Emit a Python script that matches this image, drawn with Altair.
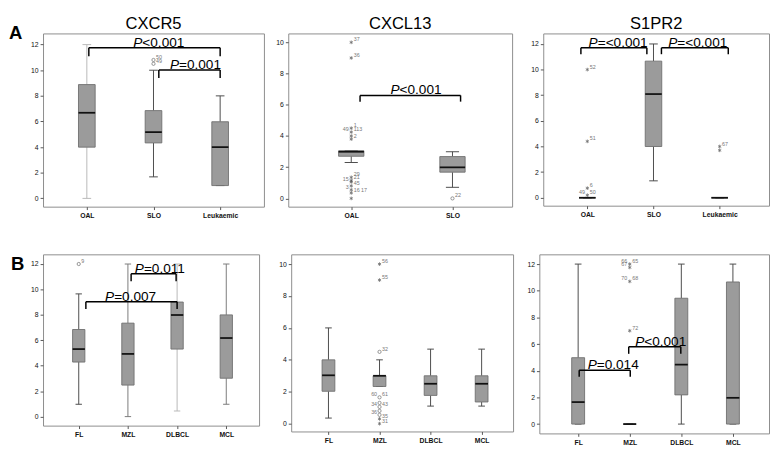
import json
import altair as alt
import pandas as pd

FONT = "Liberation Sans"

# ---------------- Row A : CXCR5 ----------------
a1_cats = ["OAL", "SLO", "Leukaemic"]
a1_low = [0.0, 1.68, 1.0]
a1_q1 = [4.0, 4.33, 1.0]
a1_med = [6.68, 5.17, 4.0]
a1_q3 = [8.88, 6.85, 5.98]
a1_high = [12.0, 10.0, 8.0]
a1_out_cat = ["SLO", "SLO"]
a1_out_val = [10.8, 10.5]
a1_out_kind = ["o", "o"]
a1_out_left = ["", ""]
a1_out_right = ["50", "49"]
a1_br_x1 = [0.03, 1.08]
a1_br_x2 = [2.0, 2.0]
a1_br_top = [11.75, 10.02]
a1_br_leg = [11.1, 9.4]
a1_br_txt = ["<0.001", "=0.001"]
a1_br_tx = [1.08, 1.63]

# ---------------- Row A : CXCL13 ----------------
a2_cats = ["OAL", "SLO"]
a2_low = [2.3, 0.71]
a2_q1 = [2.7, 1.68]
a2_med = [2.99, 1.99]
a2_q3 = [3.05, 2.68]
a2_high = [3.05, 2.99]
a2_out_cat = ["OAL"] * 13 + ["SLO"]
a2_out_val = [10.0, 9.0, 4.5, 4.25, 4.0, 3.8, 1.35, 1.15, 1.05, 0.8, 0.55, 0.35, 0.0, 0.0]
a2_out_kind = ["*"] * 13 + ["o"]
a2_out_left = ["", "", "", "49", "", "", "", "", "15", "", "3", "", "", ""]
a2_out_right = ["37", "36", "1", "113", "", "2", "29", "21", "", "45", "", "16  17", "", "22"]
a2_br_x1 = [0.087]
a2_br_x2 = [1.08]
a2_br_top = [6.6]
a2_br_leg = [6.2]
a2_br_txt = ["<0.001"]
a2_br_tx = [0.64]

# ---------------- Row A : S1PR2 ----------------
a3_cats = ["OAL", "SLO", "Leukaemic"]
a3_low = [0.0, 1.32, 0.0]
a3_q1 = [0.0, 4.0, 0.0]
a3_med = [0.0, 8.09, 0.0]
a3_q3 = [0.0, 10.66, 0.0]
a3_high = [0.0, 12.0, 0.0]
a3_out_cat = ["OAL", "OAL", "OAL", "OAL", "Leukaemic", "Leukaemic"]
a3_out_val = [10.0, 4.4, 0.75, 0.2, 4.0, 3.7]
a3_out_kind = ["*"] * 6
a3_out_left = ["", "", "", "49", "", ""]
a3_out_right = ["52", "51", "6", "50", "67", ""]
a3_br_x1 = [-0.097, 1.12]
a3_br_x2 = [0.90, 2.13]
a3_br_top = [11.7, 11.7]
a3_br_leg = [11.2, 11.2]
a3_br_txt = ["=<0.001", "=<0.001"]
a3_br_tx = [0.466, 1.67]

# ---------------- Row B : CXCR5 ----------------
b1_cats = ["FL", "MZL", "DLBCL", "MCL"]
b1_low = [0.97, 0.0, 0.44, 0.97]
b1_q1 = [4.29, 2.48, 5.31, 3.02]
b1_med = [5.31, 4.93, 7.99, 6.18]
b1_q3 = [6.85, 7.35, 9.01, 8.0]
b1_high = [9.65, 12.0, 12.0, 12.0]
b1_out_cat = ["FL"]
b1_out_val = [12.0]
b1_out_kind = ["o"]
b1_out_left = [""]
b1_out_right = ["9"]
b1_br_x1 = [0.145, 1.065]
b1_br_x2 = [2.0, 1.98]
b1_br_top = [9.03, 11.23]
b1_br_leg = [8.46, 10.64]
b1_br_txt = ["=0.007", "=0.011"]
b1_br_tx = [1.055, 1.66]

# ---------------- Row B : CXCL13 ----------------
b2_cats = ["FL", "MZL", "DLBCL", "MCL"]
b2_low = [0.35, 2.33, 1.1, 1.1]
b2_q1 = [2.03, 2.33, 1.77, 1.36]
b2_med = [3.03, 3.0, 2.5, 2.5]
b2_q3 = [4.0, 3.0, 3.0, 3.0]
b2_high = [6.0, 4.0, 4.67, 4.67]
b2_out_cat = ["MZL"] * 10
b2_out_val = [10.0, 9.0, 4.5, 1.65, 1.3, 1.05, 0.8, 0.55, 0.3, 0.0]
b2_out_kind = ["*", "*", "o", "o", "o", "o", "o", "o", "*", "*"]
b2_out_left = ["", "", "", "60", "", "34", "", "36", "", ""]
b2_out_right = ["56", "55", "32", "61", "", "43", "", "", "35", "31"]

# ---------------- Row B : S1PR2 ----------------
b3_cats = ["FL", "MZL", "DLBCL", "MCL"]
b3_low = [0.0, 0.0, 0.0, 0.0]
b3_q1 = [0.0, 0.0, 2.19, 0.0]
b3_med = [1.65, 0.0, 4.46, 1.97]
b3_q3 = [4.98, 0.0, 9.44, 10.66]
b3_high = [12.0, 0.0, 12.0, 12.0]
b3_out_cat = ["MZL"] * 4
b3_out_val = [12.0, 11.75, 10.7, 7.0]
b3_out_kind = ["*"] * 4
b3_out_left = ["66", "67", "70", ""]
b3_out_right = ["65", "", "68", "72"]
b3_br_x1 = [0.02, 0.98]
b3_br_x2 = [1.01, 1.99]
b3_br_top = [4.04, 5.8]
b3_br_leg = [3.55, 5.27]
b3_br_txt = ["=0.014", "<0.001"]
b3_br_tx = [0.68, 1.60]

# ---------------- styling helpers ----------------
CHAR_W = {"P": 0.667, "=": 0.584, "<": 0.584, ".": 0.278}
P_SIZE = 14
ASTERISK = "M0,-1L0,1M-0.87,-0.5L0.87,0.5M-0.87,0.5L0.87,-0.5"
WHISKER = "#4a4a4a"


def text_w(s):
    return sum(CHAR_W.get(c, 0.556) for c in s) * P_SIZE


def panel(cats, low, q1, med, q3, high, outs, brs, xdom, ydom, yticks,
          width, height, yext, title=None, letter=None, letter_y=8,
          letter_x=-35, wcolors=None):
    n = len(cats)
    wcolors = wcolors or {}
    box = pd.DataFrame({"i": list(range(n)), "low": low, "q1": q1, "med": med,
                        "q3": q3, "high": high,
                        "wc": [wcolors.get(c, WHISKER) for c in cats]})
    xs = alt.Scale(domain=xdom, nice=False, zero=False)
    ys = alt.Scale(domain=ydom, nice=False, zero=False)
    xaxis = alt.Axis(values=list(range(n)),
                     labelExpr=json.dumps(cats) + "[datum.value]",
                     title=None, grid=False, domain=False, tickSize=3,
                     tickColor="#555", labelFontSize=7, labelFontWeight="bold",
                     labelFont=FONT, labelColor="#111", labelPadding=2,
                     minExtent=14, labelFlush=False, labelOverlap=False)
    yaxis = alt.Axis(values=yticks, format="d", title=None, grid=False,
                     domain=False, tickSize=3, tickColor="#555",
                     labelFontSize=7, labelFont=FONT, labelColor="#111",
                     labelPadding=2, minExtent=yext)

    def X(f):
        return alt.X(f, type="quantitative", scale=xs, axis=xaxis)

    def Y(f):
        return alt.Y(f, type="quantitative", scale=ys, axis=yaxis)

    base = alt.Chart(box)
    calc = base.transform_calculate(
        bl="datum.i - 0.125", br="datum.i + 0.125",
        cl="datum.i - 0.065", cr="datum.i + 0.065")
    col = alt.Color("wc:N", scale=None)
    layers = [
        base.mark_rule(strokeWidth=1).encode(x=X("i"), y=Y("low"), y2="q1", color=col),
        base.mark_rule(strokeWidth=1).encode(x=X("i"), y=Y("q3"), y2="high", color=col),
        calc.mark_rule(strokeWidth=1).encode(x=X("cl"), x2="cr", y=Y("low"), color=col),
        calc.mark_rule(strokeWidth=1).encode(x=X("cl"), x2="cr", y=Y("high"), color=col),
        calc.mark_rect(fill="#9b9b9b", stroke="#6e6e6e", strokeWidth=0.9).encode(
            x=X("bl"), x2="br", y=Y("q1"), y2="q3"),
        calc.mark_rule(color="#111", strokeWidth=1.8).encode(x=X("bl"), x2="br", y=Y("med")),
    ]

    if outs is not None:
        oc, ov, ok, ol, orr = outs
        odf = pd.DataFrame({"i": [cats.index(c) for c in oc], "v": ov, "k": ok,
                            "ll": ol, "lr": orr})
        ob = alt.Chart(odf)
        layers += [
            ob.transform_filter("datum.k == 'o'").mark_point(
                shape="circle", filled=False, size=11, color="#444", strokeWidth=0.8
            ).encode(x=X("i"), y=Y("v")),
            ob.transform_filter("datum.k == '*'").mark_point(
                shape=ASTERISK, filled=False, size=14, color="#333", strokeWidth=0.8
            ).encode(x=X("i"), y=Y("v")),
            ob.transform_filter("datum.lr != ''").mark_text(
                align="left", dx=2.5, dy=-3, fontSize=5.5, font=FONT, color="#777"
            ).encode(x=X("i"), y=Y("v"), text="lr:N"),
            ob.transform_filter("datum.ll != ''").mark_text(
                align="right", dx=-2.5, dy=-3, fontSize=5.5, font=FONT, color="#777"
            ).encode(x=X("i"), y=Y("v"), text="ll:N"),
        ]

    if brs is not None:
        bx1, bx2, btop, bleg, btxt, btx = brs
        bdf = pd.DataFrame({"x1": bx1, "x2": bx2, "top": btop, "leg": bleg,
                            "txt": btxt, "tx": btx})
        bb = alt.Chart(bdf)
        layers += [
            bb.mark_rule(color="black", strokeWidth=1.5).encode(x=X("x1"), x2="x2", y=Y("top")),
            bb.mark_rule(color="black", strokeWidth=1.5).encode(x=X("x1"), y=Y("leg"), y2="top"),
            bb.mark_rule(color="black", strokeWidth=1.5).encode(x=X("x2"), y=Y("leg"), y2="top"),
        ]
        for k in range(len(bdf)):
            rest = btxt[k]
            split = text_w("P") - text_w("P" + rest) / 2
            one = alt.Chart(bdf.iloc[[k]])
            layers += [
                one.mark_text(text="P", align="right", baseline="alphabetic",
                              dx=split, dy=-1, fontSize=P_SIZE, font=FONT,
                              fontStyle="italic", color="black"
                              ).encode(x=X("tx"), y=Y("top")),
                one.mark_text(align="left", baseline="alphabetic", dx=split, dy=-1,
                              fontSize=P_SIZE, font=FONT, color="black"
                              ).encode(x=X("tx"), y=Y("top"), text="txt:N"),
            ]

    if letter:
        layers.append(
            alt.Chart(pd.DataFrame({"t": [letter]})).mark_text(
                align="left", baseline="alphabetic", fontSize=19, font=FONT,
                fontWeight="bold", color="black"
            ).encode(x=alt.value(letter_x), y=alt.value(letter_y), text="t:N"))

    if title:
        layers.append(
            alt.Chart(pd.DataFrame({"t": [title]})).mark_text(
                align="center", baseline="top", fontSize=17, font=FONT,
                color="black"
            ).encode(x=alt.value(width / 2), y=alt.value(-18), text="t:N"))

    return alt.layer(*layers).properties(width=width, height=height)


a1 = panel(a1_cats, a1_low, a1_q1, a1_med, a1_q3, a1_high,
           (a1_out_cat, a1_out_val, a1_out_kind, a1_out_left, a1_out_right),
           (a1_br_x1, a1_br_x2, a1_br_top, a1_br_leg, a1_br_txt, a1_br_tx),
           [-0.657, 2.657], [-0.646, 12.87], list(range(0, 13, 2)),
           227, 178, 14, title="CXCR5", letter="A", letter_y=6,
           wcolors={"OAL": "#b8b8b8"})
a2 = panel(a2_cats, a2_low, a2_q1, a2_med, a2_q3, a2_high,
           (a2_out_cat, a2_out_val, a2_out_kind, a2_out_left, a2_out_right),
           (a2_br_x1, a2_br_x2, a2_br_top, a2_br_leg, a2_br_txt, a2_br_tx),
           [-0.622, 1.589], [-0.53, 10.57], list(range(0, 11, 2)),
           230, 178, 23, title="CXCL13")
a3 = panel(a3_cats, a3_low, a3_q1, a3_med, a3_q3, a3_high,
           (a3_out_cat, a3_out_val, a3_out_kind, a3_out_left, a3_out_right),
           (a3_br_x1, a3_br_x2, a3_br_top, a3_br_leg, a3_br_txt, a3_br_tx),
           [-0.666, 2.746], [-0.62, 12.82], list(range(0, 13, 2)),
           232, 177, 30, title="S1PR2")
b1 = panel(b1_cats, b1_low, b1_q1, b1_med, b1_q3, b1_high,
           (b1_out_cat, b1_out_val, b1_out_kind, b1_out_left, b1_out_right),
           (b1_br_x1, b1_br_x2, b1_br_top, b1_br_leg, b1_br_txt, b1_br_tx),
           [-0.726, 3.667], [-0.71, 12.76], list(range(0, 13, 2)),
           222, 176, 14, letter="B", letter_y=16, letter_x=-33,
           wcolors={"DLBCL": "#b8b8b8", "MZL": "#7a7a7a", "MCL": "#7a7a7a"})
b2 = panel(b2_cats, b2_low, b2_q1, b2_med, b2_q3, b2_high,
           (b2_out_cat, b2_out_val, b2_out_kind, b2_out_left, b2_out_right),
           None,
           [-0.73, 3.616], [-0.49, 10.61], list(range(0, 11, 2)),
           228, 182, 31)
b3 = panel(b3_cats, b3_low, b3_q1, b3_med, b3_q3, b3_high,
           (b3_out_cat, b3_out_val, b3_out_kind, b3_out_left, b3_out_right),
           (b3_br_x1, b3_br_x2, b3_br_top, b3_br_leg, b3_br_txt, b3_br_tx),
           [-0.752, 3.70], [-0.7, 12.73], list(range(0, 13, 2)),
           236, 184, 25)

row_a = alt.hconcat(a1, a2, a3, spacing=0)
row_b = alt.hconcat(b1, b2, b3, spacing=0)
chart = alt.vconcat(row_a, row_b, spacing=33).properties(
    padding=0, background="white"
).configure_view(stroke="#8c8c8c", strokeWidth=1)

chart.save("out.html", embed_options={"renderer": "svg", "actions": False})
